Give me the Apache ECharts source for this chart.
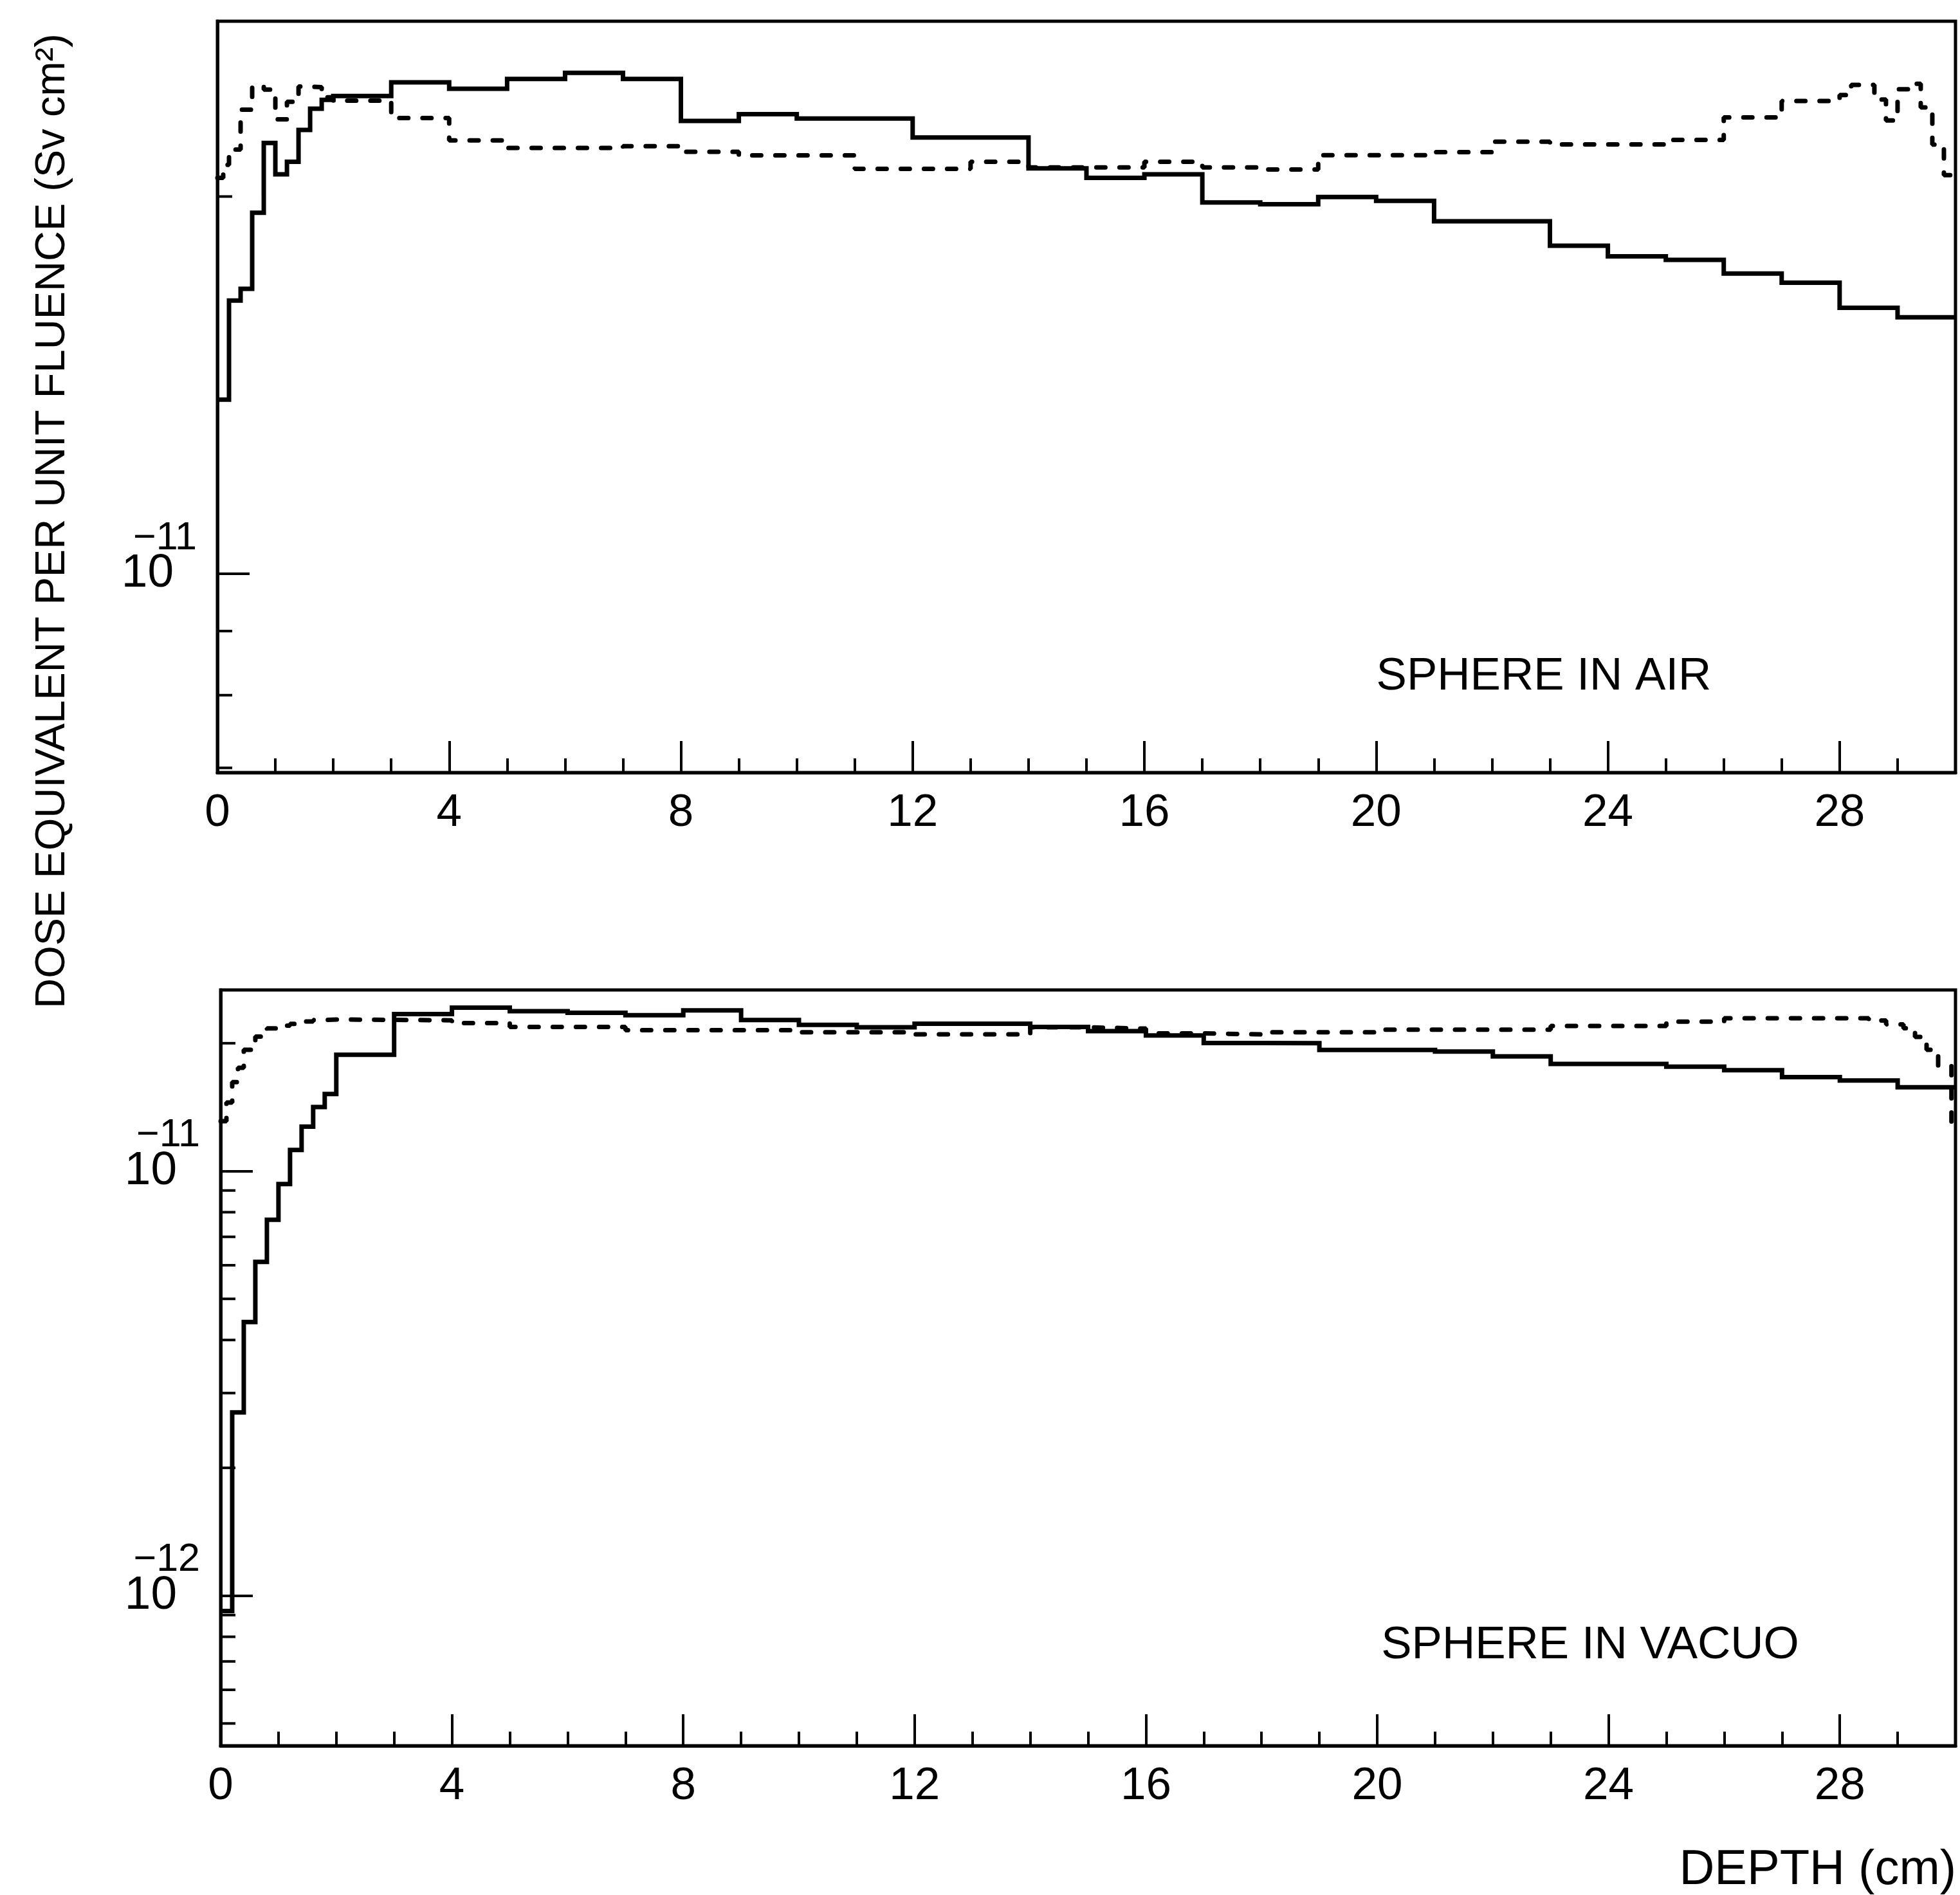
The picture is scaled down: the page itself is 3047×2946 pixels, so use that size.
<!DOCTYPE html>
<html>
<head>
<meta charset="utf-8">
<script src="https://cdn.jsdelivr.net/npm/echarts@6/dist/echarts.min.js"></script>
<style>
html,body{margin:0;padding:0;background:#ffffff;}
#chart{width:3047px;height:2946px;}
</style>
</head>
<body>
<div id="chart"></div>
<script>
// ---------------- DATA ----------------
// Depth axis (cm)
const depthMin = 0;
const depthMax = 30;
const depthMajorStep = 4;
const depthMinorStep = 1;

// y ranges (Sv cm^2)
const airRange = [6.94e-12, 2.76e-11];
const vacuoRange = [4.43e-13, 2.67e-11];

// minor (unlabelled) log ticks
const airMinorTicks = [2e-11, 9e-12, 8e-12, 7e-12];
const vacuoMinorTicks = [2e-11, 9e-12, 8e-12, 7e-12, 6e-12, 5e-12, 4e-12, 3e-12, 2e-12,
                         9e-13, 8e-13, 7e-13, 6e-13, 5e-13];

// SPHERE IN AIR - solid histogram (bin edges, bin values)
const airSolidEdges = [0,0.2,0.4,0.6,0.8,1.0,1.2,1.4,1.6,1.8,2,3,4,5,6,7,8,9,10,12,14,15,16,17,18,19,20,21,23,24,25,26,27,28,29,30];
const airSolidValues = [1.377e-11,1.652e-11,1.688e-11,1.941e-11,2.207e-11,2.083e-11,2.132e-11,2.26e-11,2.35e-11,2.389e-11,
                        2.406e-11,2.467e-11,2.438e-11,2.482e-11,2.51e-11,2.482e-11,2.298e-11,2.327e-11,2.308e-11,
                        2.229e-11,2.106e-11,2.07e-11,2.083e-11,1.978e-11,1.972e-11,1.998e-11,1.984e-11,1.911e-11,
                        1.827e-11,1.792e-11,1.78e-11,1.736e-11,1.707e-11,1.63e-11,1.602e-11];

// SPHERE IN AIR - dashed histogram
const airDashEdges = [0,0.1,0.2,0.4,0.6,0.8,1.0,1.2,1.4,1.6,1.8,2,3,4,5,7,8,9,11,13,14,15,16,17,18,19,21,22,23,25,26,27,28,28.2,28.6,28.8,29.0,29.3,29.4,29.6,29.8,30];
const airDashValues = [2.07e-11,2.12e-11,2.18e-11,2.346e-11,2.45e-11,2.434e-11,2.305e-11,2.38e-11,2.448e-11,2.445e-11,
                       2.40e-11,2.385e-11,2.31e-11,2.217e-11,2.187e-11,2.194e-11,2.171e-11,2.157e-11,2.104e-11,2.132e-11,
                       2.11e-11,2.11e-11,2.132e-11,2.11e-11,2.102e-11,2.158e-11,2.17e-11,2.212e-11,2.201e-11,2.219e-11,
                       2.313e-11,2.384e-11,2.41e-11,2.455e-11,2.39e-11,2.30e-11,2.436e-11,2.46e-11,2.356e-11,2.2e-11,
                       2.08e-11];

// SPHERE IN VACUO - solid histogram
const vacuoSolidEdges = [0,0.2,0.4,0.6,0.8,1.0,1.2,1.4,1.6,1.8,2,3,4,5,6,7,8,9,10,11,12,13,14,15,16,17,18,19,20,21,22,23,24,25,26,27,28,29,30];
const vacuoSolidValues = [9.2e-13,2.70e-12,4.41e-12,6.11e-12,7.68e-12,9.32e-12,1.121e-11,1.272e-11,1.415e-11,1.519e-11,
                          1.878e-11,2.342e-11,2.425e-11,2.38e-11,2.36e-11,2.328e-11,2.391e-11,2.268e-11,2.21e-11,2.18e-11,
                          2.223e-11,2.223e-11,2.185e-11,2.135e-11,2.086e-11,2.003e-11,2.0e-11,1.928e-11,1.928e-11,1.912e-11,
                          1.862e-11,1.787e-11,1.787e-11,1.762e-11,1.728e-11,1.664e-11,1.634e-11,1.575e-11];

// SPHERE IN VACUO - dashed histogram
const vacuoDashEdges = [0,0.1,0.2,0.3,0.4,0.6,0.8,1.0,1.2,1.4,1.6,1.8,2,4,5,7,10,12,14,15,16,17,18,20,23,25,26,28.5,28.8,29.1,29.3,29.5,29.7,29.93,30];
const vacuoDashValues = [1.31e-11,1.45e-11,1.62e-11,1.75e-11,1.93e-11,2.074e-11,2.168e-11,2.20e-11,2.221e-11,2.25e-11,
                         2.268e-11,2.275e-11,2.265e-11,2.231e-11,2.185e-11,2.147e-11,2.122e-11,2.098e-11,2.18e-11,2.165e-11,
                         2.11e-11,2.098e-11,2.122e-11,2.152e-11,2.197e-11,2.249e-11,2.29e-11,2.263e-11,2.215e-11,2.17e-11,
                         2.07e-11,1.93e-11,1.77e-11,1.30e-11];

// texts
const yTitle = 'DOSE EQUIVALENT PER UNIT FLUENCE (Sv cm\u00B2)';
const xTitle = 'DEPTH (cm)';
const panelLabels = ['SPHERE IN AIR', 'SPHERE IN VACUO'];

// ---------------- BUILD ----------------
const FONT = 'Liberation Sans, Arial, sans-serif';

function hist(edges, values) {
  const d = values.map((v, i) => [edges[i], v]);
  d.push([edges[edges.length - 1], values[values.length - 1]]);
  return d;
}

function logLabel(v) {
  const l = Math.log10(v);
  const e = Math.round(l);
  if (Math.abs(l - e) > 0.002) return '';
  return '{sup|\u2212' + (-e) + '}\n{base|10}{pad| }\n{gap| }';
}

const yLabelRich = {
  sup: {fontSize: 61, lineHeight: 50, fontFamily: FONT, color: '#000'},
  base: {fontSize: 73, lineHeight: 60, fontFamily: FONT, color: '#000'},
  pad: {fontSize: 10, width: 36, lineHeight: 60},
  gap: {fontSize: 10, lineHeight: 50}
};

function xMajor(gridIndex) {
  return {
    gridIndex, type: 'value', position: 'bottom', min: depthMin, max: depthMax, interval: depthMajorStep,
    axisLine: {show: true, onZero: false, lineStyle: {color: '#000', width: 5}},
    axisTick: {show: true, inside: true, length: 49, lineStyle: {color: '#000', width: 4}},
    axisLabel: {show: true, margin: 28, fontSize: 71, fontFamily: FONT, color: '#000', showMaxLabel: false},
    splitLine: {show: false}
  };
}
function xMinor(gridIndex) {
  return {
    gridIndex, type: 'value', position: 'bottom', min: depthMin, max: depthMax, interval: depthMinorStep,
    axisLine: {show: false, onZero: false},
    axisTick: {show: true, inside: true, length: 22, lineStyle: {color: '#000', width: 4}},
    axisLabel: {show: false},
    splitLine: {show: false}
  };
}
function yLog(gridIndex, range) {
  return {
    gridIndex, type: 'log', logBase: 10, min: range[0], max: range[1],
    axisLine: {show: true, lineStyle: {color: '#000', width: 5}},
    axisTick: {show: true, inside: true, length: 50, lineStyle: {color: '#000', width: 4}},
    axisLabel: {show: true, margin: 32, formatter: logLabel, rich: yLabelRich,
                showMinLabel: false, showMaxLabel: false, color: '#000'},
    splitLine: {show: false},
    minorTick: {show: false}
  };
}
function minorTicks(xIdx, yIdx, values) {
  return {
    type: 'custom', xAxisIndex: xIdx, yAxisIndex: yIdx, silent: true, z: 6,
    data: values.map(v => [depthMin, v]),
    encode: {x: 0, y: 1},
    renderItem: function (params, api) {
      const p = api.coord([api.value(0), api.value(1)]);
      return {type: 'line', shape: {x1: p[0], y1: p[1], x2: p[0] + 23, y2: p[1]},
              style: {stroke: '#000', lineWidth: 4}};
    }
  };
}
function solid(xIdx, yIdx, edges, values) {
  return {type: 'line', xAxisIndex: xIdx, yAxisIndex: yIdx, step: 'end', showSymbol: false, symbol: 'none',
          data: hist(edges, values), z: 4,
          lineStyle: {color: '#000', width: 7, type: 'solid', join: 'miter'}};
}
function dashed(xIdx, yIdx, edges, values) {
  return {type: 'line', xAxisIndex: xIdx, yAxisIndex: yIdx, step: 'end', showSymbol: false, symbol: 'none',
          data: hist(edges, values), z: 3,
          lineStyle: {color: '#000', width: 7, type: [14, 22], cap: 'round'}};
}

const chart = echarts.init(document.getElementById('chart'), null, {renderer: 'canvas'});
chart.setOption({
  backgroundColor: '#ffffff',
  animation: false,
  grid: [
    {left: 338, right: 7, top: 33, height: 1168, show: true, borderColor: '#000', borderWidth: 5, backgroundColor: 'transparent'},
    {left: 343, right: 7, top: 1539, height: 1175, show: true, borderColor: '#000', borderWidth: 5, backgroundColor: 'transparent'}
  ],
  xAxis: [xMajor(0), xMinor(0), xMajor(1), xMinor(1)],
  yAxis: [yLog(0, airRange), yLog(1, vacuoRange)],
  series: [
    dashed(0, 0, airDashEdges, airDashValues),
    solid(0, 0, airSolidEdges, airSolidValues),
    dashed(2, 1, vacuoDashEdges, vacuoDashValues),
    solid(2, 1, vacuoSolidEdges, vacuoSolidValues),
    minorTicks(0, 0, airMinorTicks),
    minorTicks(2, 1, vacuoMinorTicks)
  ],
  graphic: [
    {type: 'text', x: 82, y: 810, rotation: Math.PI / 2,
     style: {text: yTitle, fontSize: 65, fontFamily: FONT, fill: '#000', align: 'center', verticalAlign: 'middle'}},
    {type: 'text', x: 2400, y: 1052,
     style: {text: panelLabels[0], fontSize: 71, fontFamily: FONT, fill: '#000', align: 'center', verticalAlign: 'middle'}},
    {type: 'text', x: 2472, y: 2558,
     style: {text: panelLabels[1], fontSize: 71, fontFamily: FONT, fill: '#000', align: 'center', verticalAlign: 'middle'}},
    {type: 'text', x: 3041, y: 2908,
     style: {text: xTitle, fontSize: 76, fontFamily: FONT, fill: '#000', align: 'right', verticalAlign: 'middle'}}
  ]
});
</script>
</body>
</html>
